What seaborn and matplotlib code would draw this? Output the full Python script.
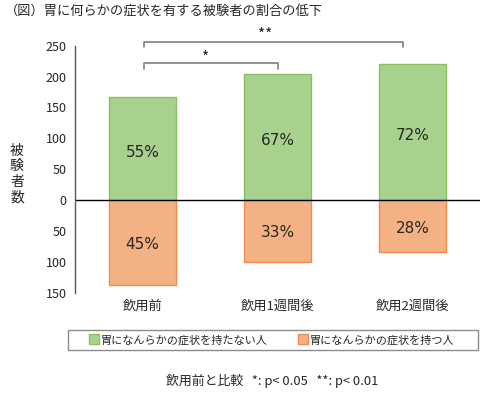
import numpy as np
import pandas as pd
import seaborn as sns
import matplotlib.pyplot as plt
from matplotlib.lines import Line2D
from matplotlib.patches import Rectangle

# data
groups = ['飲用前', '飲用1週間後', '飲用2週間後']
no_symptom = [167, 204, 220]      # 胃になんらかの症状を持たない人
symptom = [137, 100, 85]          # 胃になんらかの症状を持つ人
no_symptom_pct = ['55%', '67%', '72%']
symptom_pct = ['45%', '33%', '28%']
yticks = [250, 200, 150, 100, 50, 0, -50, -100, -150]

green, green_edge = '#A9D18E', '#86C062'
orange, orange_edge = '#F4B183', '#F08C4E'

sns.set_style('white')
plt.rcParams['font.family'] = ['Noto Sans CJK JP', 'DejaVu Sans']

df = pd.DataFrame({'group': groups, 'pos': no_symptom,
                   'neg': [-v for v in symptom]})

fig = plt.figure(figsize=(4.91, 3.94), dpi=100)
ax = fig.add_axes([75 / 491, 1 - 292.6 / 394, 405 / 491, (292.6 - 45.7) / 394])

sns.barplot(data=df, x='group', y='pos', color=green, edgecolor=green_edge,
            linewidth=1, width=0.5, saturation=1, ax=ax)
sns.barplot(data=df, x='group', y='neg', color=orange, edgecolor=orange_edge,
            linewidth=1, width=0.5, saturation=1, ax=ax)

for i in range(len(groups)):
    ax.text(i, no_symptom[i] / 2 - 6, no_symptom_pct[i], ha='center', va='center',
            fontsize=11, family='DejaVu Sans')
    ax.text(i, -symptom[i] / 2 - 3, symptom_pct[i], ha='center', va='center',
            fontsize=11, family='DejaVu Sans')

ax.axhline(0, color='black', lw=1)
ax.set_xlim(-0.5, 2.5)
ax.set_ylim(-150, 250)
ax.set_yticks(yticks)
ax.set_yticklabels([str(abs(v)) for v in yticks], fontsize=9)
ax.tick_params(axis='y', direction='out', length=4, width=1, color='#595959', pad=2)
ax.tick_params(axis='x', length=0, labelsize=9.5, pad=5)
ax.set_xlabel('')
ax.set_ylabel('')
for s in ['top', 'right', 'bottom']:
    ax.spines[s].set_visible(False)
ax.spines['left'].set_color('#595959')
ax.spines['left'].set_linewidth(1)

# significance brackets
bc = '#7F7F7F'
ax.plot([0.01, 0.01, 1.0, 1.0], [212, 221.5, 221.5, 212], color=bc, lw=1.2, clip_on=False)
ax.plot([0.01, 0.01, 1.93, 1.93], [248, 256.6, 256.6, 248], color=bc, lw=1.2, clip_on=False)
ax.text(0.47, 230, '*', ha='center', va='center', fontsize=11)
ax.text(0.91, 267, '**', ha='center', va='center', fontsize=11, clip_on=False)

fig.text(5 / 491, 1 - 11 / 394, '（図）胃に何らかの症状を有する被験者の割合の低下',
         ha='left', va='center', fontsize=9.5)
fig.text(17 / 491, 1 - 174 / 394, '被\n験\n者\n数', ha='center', va='center',
         fontsize=10, linespacing=1.15)

# legend box
fig.patches.append(Rectangle((68 / 491, 1 - 350 / 394), 410 / 491, 20 / 394,
                             transform=fig.transFigure, fill=False,
                             edgecolor='#8C8C8C', lw=1))
handles = [Line2D([], [], ls='none', marker='s', markersize=7, markerfacecolor=green,
                  markeredgecolor=green_edge),
           Line2D([], [], ls='none', marker='s', markersize=7, markerfacecolor=orange,
                  markeredgecolor=orange_edge)]
fig.legend(handles, ['胃になんらかの症状を持たない人', '胃になんらかの症状を持つ人'],
           loc='center', bbox_to_anchor=(272 / 491, 1 - 340 / 394), ncol=2,
           frameon=False, fontsize=8, handlelength=0.8, handletextpad=0.2,
           columnspacing=2.8, borderpad=0)

fig.text(272 / 491, 1 - 381 / 394, '飲用前と比較   *: p< 0.05   **: p< 0.01',
         ha='center', va='center', fontsize=9.3)

fig.savefig('out.png', dpi=100)
